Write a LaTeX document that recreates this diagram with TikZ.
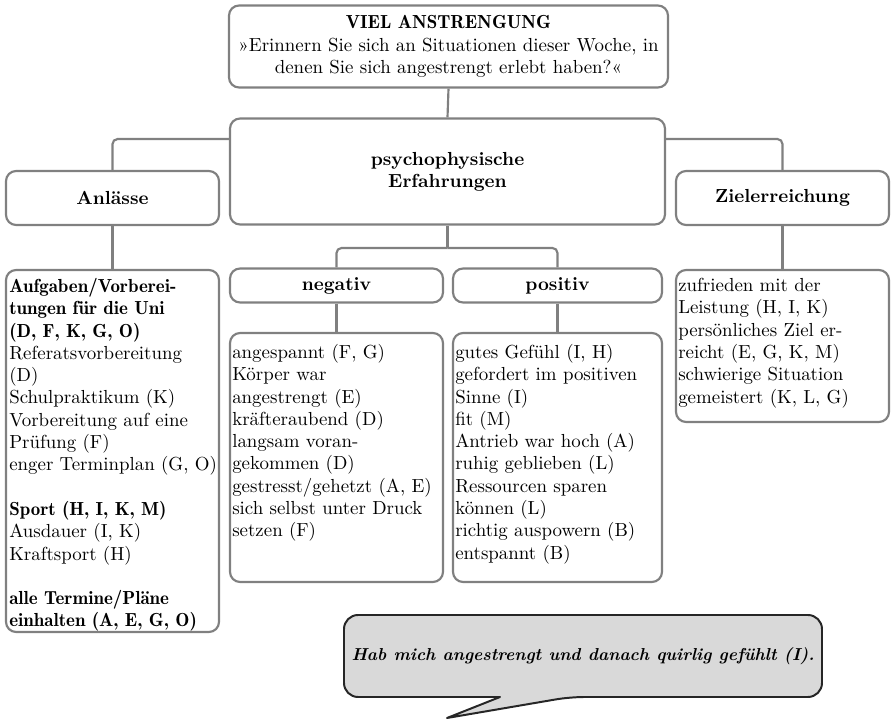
\documentclass[tikz,border=0pt]{standalone}
\usepackage{fontspec}
\usetikzlibrary{calc}
\definecolor{boxgray}{RGB}{128,128,128}
\definecolor{bubblefill}{RGB}{217,217,217}
\definecolor{bubbleline}{RGB}{38,38,38}
\renewcommand{\bfdefault}{b}
\newcommand{\pxu}{0.5556pt}
\newcommand{\diafont}{\fontsize{10.5}{12.39}\selectfont}
\tikzset{
  box/.style={draw=boxgray, line width=1.2pt, rounded corners=5.6pt, font=\diafont, align=center, inner sep=1.1pt},
  headbox/.style={box, font=\diafont\fontseries{bx}\selectfont},
  listbox/.style={draw=boxgray, line width=1.2pt, rounded corners=5.6pt, inner sep=0pt},
  listtext/.style={anchor=north west, align=left, inner sep=0pt, font=\diafont},
  conn/.style={draw=boxgray, line width=1.2pt, rounded corners=2.8pt},
  bubble/.style={draw=bubbleline, fill=bubblefill, line width=1.1pt, line join=round},
}
\begin{document}
\begin{tikzpicture}[x=\pxu, y=-\pxu]
        \useasboundingbox (0,0) rectangle (892,721);
        % Question
        \node[box, minimum width=439*\pxu, minimum height=82*\pxu] (top) at (448.5,46.5)
            {\textbf{VIEL ANSTRENGUNG}\\»Erinnern Sie sich an Situationen dieser Woche, in\\denen Sie sich angestrengt erlebt haben?«};
        % Categories
        \node[headbox, minimum width=435*\pxu, minimum height=106*\pxu] (main) at (447.5,171.5) {psychophysische\\Erfahrungen};
        \node[headbox, minimum width=213*\pxu, minimum height=54*\pxu] (anl) at (112.5,198) {Anlässe};
        \node[headbox, minimum width=213*\pxu, minimum height=54*\pxu] (ziel) at (782.5,198) {Zielerreichung};
        \node[headbox, minimum width=213*\pxu, minimum height=34*\pxu] (neg) at (336.5,285.5) {negativ};
        \node[headbox, minimum width=209*\pxu, minimum height=34*\pxu] (pos) at (557.5,285.5) {positiv};
        % List boxes
        \node[listbox, minimum width=213*\pxu, minimum height=362*\pxu] (anlList) at (112.5,451) {};
        \node[listbox, minimum width=213*\pxu, minimum height=249*\pxu] (negList) at (336.5,457.5) {};
        \node[listbox, minimum width=209*\pxu, minimum height=249*\pxu] (posList) at (557.5,457.5) {};
        \node[listbox, minimum width=213*\pxu, minimum height=152*\pxu] (zielList) at (782.5,346) {};
        % List texts
        \node[listtext] (anlText) at ($(anlList.north west)+(4,9)$)
            {\textbf{Aufgaben/Vorberei-}\\\textbf{tungen für die Uni}\\\textbf{(D, F, K, G, O)}\\Referatsvorbereitung\\(D)\\Schulpraktikum (K)\\Vorbereitung auf eine\\Prüfung (F)\\enger Terminplan (G, O)\\[12.39pt]
             \textbf{Sport (H, I, K, M)}\\Ausdauer (I, K)\\Kraftsport (H)\\[12.39pt]
             \textbf{alle Termine/Pläne}\\\textbf{einhalten (A, E, G, O)}};
        \node[listtext] (negText) at ($(negList.north west)+(3,12)$)
            {angespannt (F, G)\\Körper war\\angestrengt (E)\\kräfteraubend (D)\\langsam voran-\\gekommen (D)\\gestresst/gehetzt (A, E)\\sich selbst unter Druck\\setzen (F)};
        \node[listtext] (posText) at ($(posList.north west)+(3,12)$)
            {gutes Gefühl (I, H)\\gefordert im positiven\\Sinne (I)\\fit (M)\\Antrieb war hoch (A)\\ruhig geblieben (L)\\Ressourcen sparen\\können (L)\\richtig auspowern (B)\\entspannt (B)};
        \node[listtext] (zielText) at ($(zielList.north west)+(3,9)$)
            {zufrieden mit der\\Leistung (H, I, K)\\persönliches Ziel er-\\reicht (E, G, K, M)\\schwierige Situation\\gemeistert (K, L, G)};
        % Connectors
        \draw[conn] (top.south) -- (main.north);
        \draw[conn] ($(main.north west)!0.2!(main.south west)$) -| (anl.north);
        \draw[conn] ($(main.north east)!0.2!(main.south east)$) -| (ziel.north);
        \coordinate (split) at (main.south |- 0,248);
        \draw[conn] (main.south) -- (split);
        \draw[conn] (split) -| (neg.north);
        \draw[conn] (split) -| (pos.north);
        \draw[conn] (anl.south) -- (anlList.north);
        \draw[conn] (neg.south) -- (negList.north);
        \draw[conn] (pos.south) -- (posList.north);
        \draw[conn] (ziel.south) -- (zielList.north);
        % Speech bubble
        \draw[bubble] (447,718) -- (500,697) [rounded corners=7.8pt] -- (344,697) -- (344,615) -- (822,615) -- (822,697) -- (570,697) [sharp corners] -- cycle;
        \node[font=\fontsize{9.6}{11}\selectfont\fontseries{bx}\itshape] (quote) at (583,656) {Hab mich angestrengt und danach quirlig gefühlt (I).};
    \end{tikzpicture}
\end{document}
